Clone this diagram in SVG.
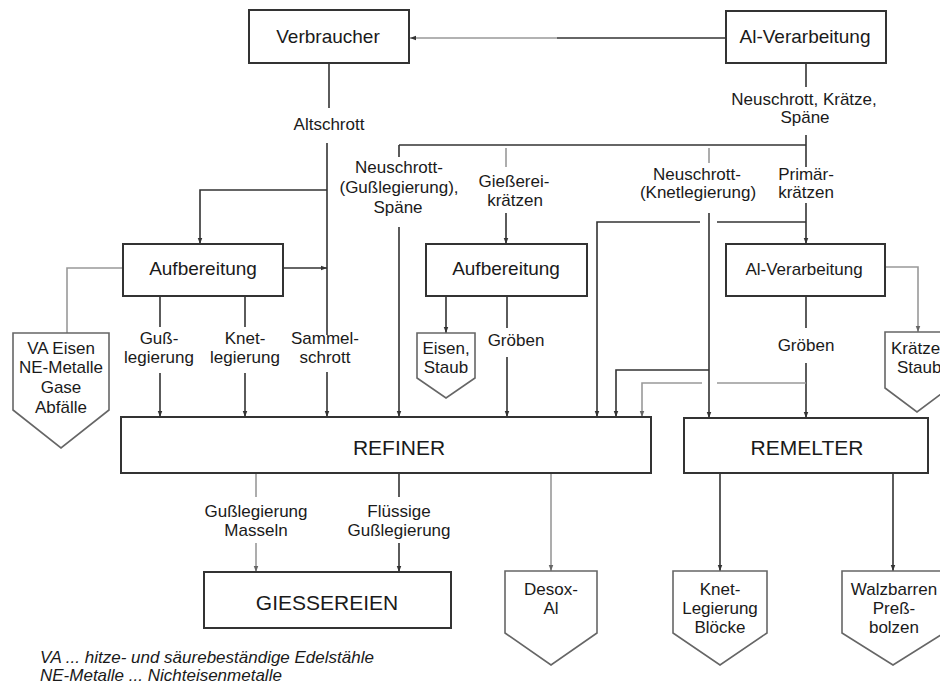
<svg xmlns="http://www.w3.org/2000/svg" width="940" height="686" viewBox="0 0 940 686">
<style>
text{font-family:"Liberation Sans",Arial,sans-serif;fill:#1a1a1a;text-anchor:middle}
.big{font-size:19px}
.huge{font-size:21px}
.lbl{font-size:17px}
.note{font-size:17px;font-style:italic;text-anchor:start}
.box{fill:#fff;stroke:#333;stroke-width:2}
.pent{fill:#fff;stroke:#666;stroke-width:1.6}
.c{fill:none;stroke:#333;stroke-width:1.6}
.g{fill:none;stroke:#999;stroke-width:1.6}
.a{marker-end:url(#ah)}
.ag{marker-end:url(#ahg)}
</style>
<defs>
<marker id="ah" viewBox="0 0 8 8" refX="8" refY="4" markerWidth="6" markerHeight="6" orient="auto" markerUnits="userSpaceOnUse"><path d="M0,1 L8,4 L0,7 z" fill="#333"/></marker>
<marker id="ahg" viewBox="0 0 8 8" refX="8" refY="4" markerWidth="6" markerHeight="6" orient="auto" markerUnits="userSpaceOnUse"><path d="M0,1 L8,4 L0,7 z" fill="#666"/></marker>
</defs>
<rect width="940" height="686" fill="#fff"/>

<g id="connectors">
<path class="c" d="M726,38 H557"/>
<path class="g a" d="M557,38 H410"/>
<path class="c" d="M329,63 V108"/>
<path class="c" d="M327,143 V335"/>
<path class="c a" d="M327,372 V417"/>
<path class="c a" d="M327,190 H200 V244"/>
<path class="c a" d="M283,268 H327"/>
<path class="g" d="M123,268 H67 V333"/>
<path class="c" d="M160,296 V327"/>
<path class="c a" d="M160,373 V417"/>
<path class="c" d="M245,296 V327"/>
<path class="c a" d="M245,373 V417"/>
<path class="c" d="M806,63 V87"/>
<path class="c" d="M806,135 V167"/>
<path class="c a" d="M806,203 V244"/>
<path class="c" d="M399,145 H806"/>
<path class="c" d="M399,145 V157"/>
<path class="c a" d="M399,227 V417"/>
<path class="g" d="M506,148 V167"/>
<path class="c a" d="M506,213 V244"/>
<path class="g" d="M709,148 V163"/>
<path class="c a" d="M709,213 V418"/>
<path class="c" d="M806,222 H717"/>
<path class="c a" d="M700,222 H597 V417"/>
<path class="c a" d="M709,370 H616 V417"/>
<path class="c" d="M806,296 V328"/>
<path class="c a" d="M806,363 V418"/>
<path class="g" d="M806,383 H717"/>
<path class="g ag" d="M702,383 H642 V417"/>
<path class="g ag" d="M885,267 H918 V332"/>
<path class="c a" d="M446,296 V333"/>
<path class="c" d="M507,296 V328"/>
<path class="c a" d="M507,357 V417"/>
<path class="g" d="M256,473 V497"/>
<path class="g ag" d="M256,543 V572"/>
<path class="c" d="M399,473 V497"/>
<path class="c a" d="M399,543 V572"/>
<path class="g ag" d="M551,473 V571"/>
<path class="c a" d="M720,473 V571"/>
<path class="c a" d="M893,473 V571"/>
</g>

<g id="verbraucher"><rect class="box" x="249" y="10" width="160" height="53"/><text class="big" x="328" y="43">Verbraucher</text></g>
<g id="al-verarbeitung-top"><rect class="box" x="726" y="11" width="160" height="52"/><text class="big" x="805" y="43">Al-Verarbeitung</text></g>
<g id="aufbereitung-left"><rect class="box" x="123" y="244" width="160" height="52"/><text class="big" x="203" y="275">Aufbereitung</text></g>
<g id="aufbereitung-mid"><rect class="box" x="426" y="244" width="161" height="52"/><text class="big" x="506" y="275">Aufbereitung</text></g>
<g id="al-verarbeitung-mid"><rect class="box" x="726" y="244" width="159" height="52"/><text class="lbl" x="804" y="275">Al-Verarbeitung</text></g>
<g id="refiner"><rect class="box" x="121" y="417" width="530" height="56"/><text class="huge" x="399" y="455">REFINER</text></g>
<g id="remelter"><rect class="box" x="684" y="418" width="244" height="55"/><text class="huge" x="807" y="455">REMELTER</text></g>
<g id="giessereien"><rect class="box" x="204" y="572" width="247" height="56"/><text class="huge" x="327" y="610">GIESSEREIEN</text></g>

<g id="va-pent"><path class="pent" d="M13,333 H109 V410 L61,448 L13,410 Z"/><text class="lbl" x="61" y="354">VA Eisen</text><text class="lbl" x="61" y="373">NE-Metalle</text><text class="lbl" x="61" y="393">Gase</text><text class="lbl" x="61" y="413">Abfälle</text></g>
<g id="eisen-pent"><path class="pent" d="M417,333 H475 V378 L446,398 L417,378 Z"/><text class="lbl" x="446" y="354">Eisen,</text><text class="lbl" x="446" y="373">Staub</text></g>
<g id="kraetze-pent"><path class="pent" d="M885,332 H949 V388 L917,412 L885,388 Z"/><text class="lbl" x="891" y="354" style="text-anchor:start">Krätze</text><text class="lbl" x="897" y="373" style="text-anchor:start">Staub</text></g>
<g id="desox-pent"><path class="pent" d="M505,571 H597 V633 L551,665 L505,633 Z"/><text class="lbl" x="551" y="595">Desox-</text><text class="lbl" x="551" y="614">Al</text></g>
<g id="knet-pent"><path class="pent" d="M673,571 H767 V633 L720,665 L673,633 Z"/><text class="lbl" x="720" y="595">Knet-</text><text class="lbl" x="720" y="614">Legierung</text><text class="lbl" x="720" y="633">Blöcke</text></g>
<g id="walz-pent"><path class="pent" d="M842,571 H944 V633 L893,665 L842,633 Z"/><text class="lbl" x="894" y="595">Walzbarren</text><text class="lbl" x="894" y="614">Preß-</text><text class="lbl" x="894" y="633">bolzen</text></g>

<g id="labels">
<text class="lbl" x="329" y="130">Altschrott</text>
<text class="lbl" x="804" y="105">Neuschrott, Krätze,</text>
<text class="lbl" x="805" y="123">Späne</text>
<text class="lbl" x="399" y="173">Neuschrott-</text>
<text class="lbl" x="399" y="193">(Gußlegierung),</text>
<text class="lbl" x="398" y="213">Späne</text>
<text class="lbl" x="514" y="187">Gießerei-</text>
<text class="lbl" x="515" y="206">krätzen</text>
<text class="lbl" x="697" y="180">Neuschrott-</text>
<text class="lbl" x="698" y="198">(Knetlegierung)</text>
<text class="lbl" x="806" y="180">Primär-</text>
<text class="lbl" x="806" y="198">krätzen</text>
<text class="lbl" x="159" y="344">Guß-</text>
<text class="lbl" x="159" y="363">legierung</text>
<text class="lbl" x="245" y="344">Knet-</text>
<text class="lbl" x="245" y="363">legierung</text>
<text class="lbl" x="325" y="344">Sammel-</text>
<text class="lbl" x="325" y="363">schrott</text>
<text class="lbl" x="516" y="346">Gröben</text>
<text class="lbl" x="806" y="351">Gröben</text>
<text class="lbl" x="256" y="517">Gußlegierung</text>
<text class="lbl" x="256" y="536">Masseln</text>
<text class="lbl" x="399" y="517">Flüssige</text>
<text class="lbl" x="399" y="536">Gußlegierung</text>
<text class="note" x="40" y="663">VA ... hitze- und säurebeständige Edelstähle</text>
<text class="note" x="40" y="681">NE-Metalle ... Nichteisenmetalle</text>
</g>
</svg>
